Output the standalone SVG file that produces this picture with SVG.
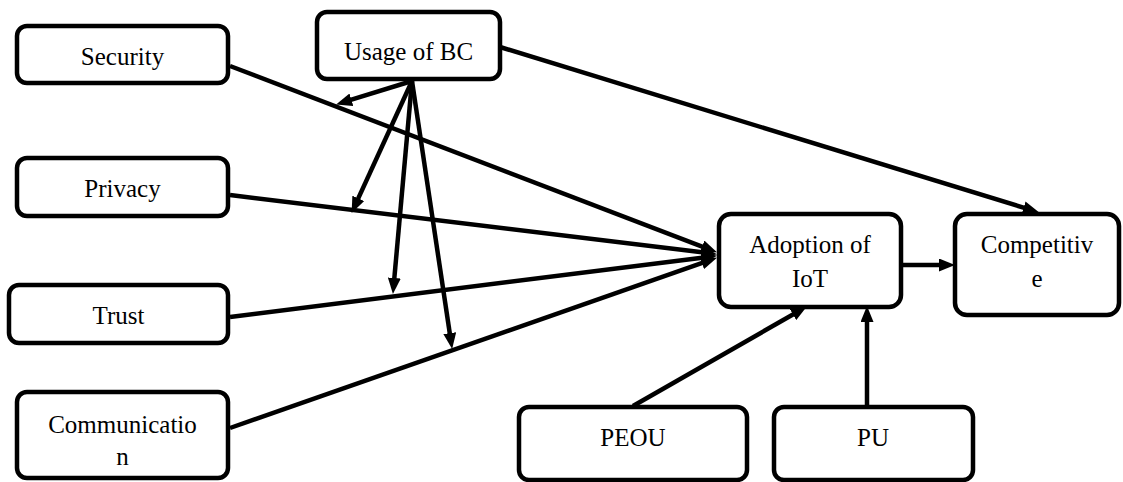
<svg xmlns="http://www.w3.org/2000/svg" width="1123" height="482" viewBox="0 0 1123 482">
<defs>
<marker id="ah" viewBox="0 0 16 13" refX="5" refY="6.5" markerWidth="16" markerHeight="13" markerUnits="userSpaceOnUse" orient="auto">
<path d="M0,0 L16,6.5 L0,13 z" fill="#000"/>
</marker>
<style>
.box{fill:#fff;stroke:#000;stroke-width:4.5}
text{font-family:'Liberation Serif','Times New Roman','DejaVu Serif',serif;font-size:25px;fill:#000;text-anchor:middle}
.c line{stroke:#000;stroke-width:4.5;marker-end:url(#ah)}
</style>
</defs>
<rect width="1123" height="482" fill="#fff"/>
<g class="c" id="connectors">
<line x1="230" y1="66" x2="706.7" y2="248.4"/>
<line x1="230" y1="195" x2="706.1" y2="252.8"/>
<line x1="230" y1="317" x2="706.1" y2="257.2"/>
<line x1="230" y1="428" x2="706.6" y2="261.3"/>
<line x1="412" y1="81" x2="346.6" y2="101.2"/>
<line x1="412" y1="81" x2="356.2" y2="202.9"/>
<line x1="412" y1="81" x2="393.9" y2="283"/>
<line x1="412" y1="81" x2="450.5" y2="338.1"/>
<line x1="500" y1="47" x2="1028.4" y2="209.1"/>
<line x1="901" y1="265" x2="944" y2="265"/>
<line x1="633" y1="406" x2="797.3" y2="312"/>
<line x1="867" y1="406" x2="867" y2="317"/>
</g>
<g id="nodes">
<g id="security"><rect class="box" x="17" y="26" width="211" height="57" rx="10"/><text x="122.5" y="65">Security</text></g>
<g id="usage"><rect class="box" x="317" y="12" width="183" height="67" rx="10"/><text x="408.5" y="60">Usage of BC</text></g>
<g id="privacy"><rect class="box" x="17" y="158" width="211" height="58" rx="10"/><text x="122.5" y="197">Privacy</text></g>
<g id="trust"><rect class="box" x="9" y="285" width="219" height="58" rx="10"/><text x="118.5" y="324">Trust</text></g>
<g id="communication"><rect class="box" x="17" y="392" width="211" height="86" rx="10"/><text x="122.5" y="433">Communicatio</text><text x="122.5" y="465">n</text></g>
<g id="adoption"><rect class="box" x="719" y="214" width="182" height="93" rx="12"/><text x="810" y="253">Adoption of</text><text x="810" y="287">IoT</text></g>
<g id="competitive"><rect class="box" x="955" y="214" width="164" height="101" rx="12"/><text x="1037" y="253">Competitiv</text><text x="1037" y="287">e</text></g>
<g id="peou"><rect class="box" x="519" y="407" width="228" height="73" rx="10"/><text x="633" y="446">PEOU</text></g>
<g id="pu"><rect class="box" x="774" y="407" width="199" height="73" rx="10"/><text x="873" y="446">PU</text></g>
</g>
</svg>
